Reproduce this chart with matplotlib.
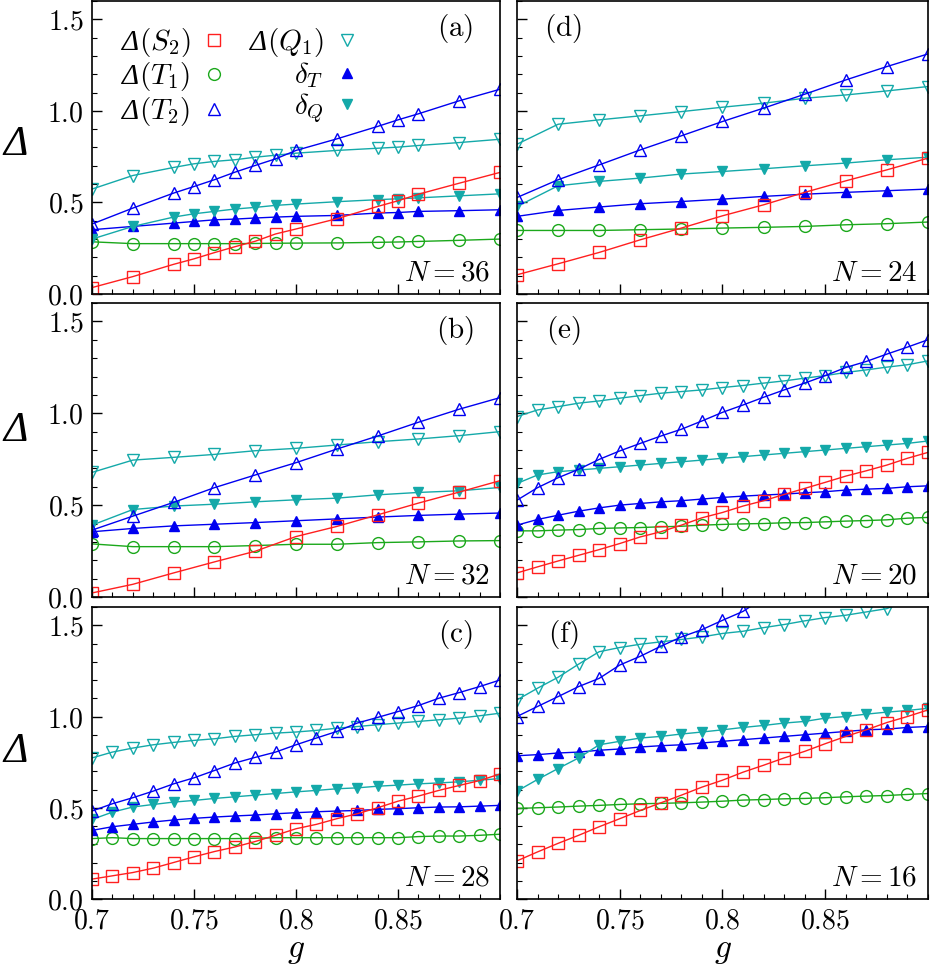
import matplotlib
matplotlib.use('Agg')
import matplotlib.pyplot as plt
from matplotlib.lines import Line2D
from matplotlib.ticker import MultipleLocator

plt.rcParams['mathtext.fontset'] = 'cm'
plt.rcParams['mathtext.rm'] = 'cmr10'
plt.rcParams['mathtext.it'] = 'cmmi10'
plt.rcParams['mathtext.bf'] = 'cmb10'
plt.rcParams['mathtext.sf'] = 'Liberation Serif:italic'
plt.rcParams['font.family'] = ['DejaVu Serif']

# ---------------- data ----------------
g_a = [0.70, 0.72, 0.74, 0.75, 0.76, 0.77, 0.78, 0.79, 0.80, 0.82, 0.84, 0.85, 0.86, 0.88, 0.90]
g_11 = [0.70, 0.72, 0.74, 0.76, 0.78, 0.80, 0.82, 0.84, 0.86, 0.88, 0.90]
g_21 = [0.70, 0.71, 0.72, 0.73, 0.74, 0.75, 0.76, 0.77, 0.78, 0.79, 0.80,
        0.81, 0.82, 0.83, 0.84, 0.85, 0.86, 0.87, 0.88, 0.89, 0.90]
g_f_T2 = [0.70, 0.71, 0.72, 0.73, 0.74, 0.75, 0.76, 0.77, 0.78, 0.79, 0.80, 0.81, 0.82]
g_f_Q1 = [0.70, 0.71, 0.72, 0.73, 0.74, 0.75, 0.76, 0.77, 0.78, 0.79, 0.80,
          0.81, 0.82, 0.83, 0.84, 0.85, 0.86, 0.87, 0.88, 0.89, 0.90]

# (a) N = 36
S2_a = [0.035, 0.095, 0.162, 0.192, 0.226, 0.258, 0.288, 0.328, 0.355, 0.411, 0.478, 0.509, 0.545, 0.605, 0.664]
T1_a = [0.285, 0.275, 0.275, 0.275, 0.275, 0.275, 0.276, 0.277, 0.278, 0.279, 0.282, 0.284, 0.287, 0.293, 0.300]
T2_a = [0.382, 0.469, 0.551, 0.587, 0.624, 0.665, 0.702, 0.738, 0.784, 0.847, 0.915, 0.951, 0.984, 1.055, 1.118]
Q1_a = [0.573, 0.647, 0.691, 0.711, 0.724, 0.733, 0.747, 0.758, 0.769, 0.784, 0.796, 0.802, 0.811, 0.827, 0.845]
dT_a = [0.351, 0.369, 0.387, 0.396, 0.405, 0.409, 0.415, 0.420, 0.424, 0.429, 0.442, 0.445, 0.451, 0.455, 0.460]
dQ_a = [0.300, 0.369, 0.420, 0.438, 0.451, 0.464, 0.473, 0.484, 0.491, 0.504, 0.515, 0.520, 0.525, 0.536, 0.547]

# (b) N = 32
S2_b = [0.022, 0.069, 0.131, 0.191, 0.249, 0.329, 0.384, 0.447, 0.511, 0.571, 0.633]
T1_b = [0.289, 0.274, 0.274, 0.274, 0.280, 0.287, 0.287, 0.296, 0.300, 0.305, 0.307]
T2_b = [0.364, 0.440, 0.515, 0.595, 0.664, 0.731, 0.805, 0.876, 0.951, 1.022, 1.085]
Q1_b = [0.678, 0.745, 0.760, 0.776, 0.796, 0.809, 0.827, 0.845, 0.860, 0.878, 0.900]
dT_b = [0.355, 0.373, 0.387, 0.396, 0.405, 0.415, 0.425, 0.435, 0.444, 0.451, 0.457]
dQ_b = [0.391, 0.476, 0.495, 0.505, 0.518, 0.529, 0.538, 0.556, 0.569, 0.578, 0.596]

# (c) N = 28
S2_c = [0.109, 0.127, 0.145, 0.169, 0.200, 0.231, 0.260, 0.285, 0.315, 0.349, 0.385,
        0.409, 0.440, 0.467, 0.500, 0.536, 0.564, 0.595, 0.622, 0.649, 0.685]
T1_c = [0.331, 0.336, 0.331, 0.331, 0.331, 0.331, 0.331, 0.331, 0.333, 0.336, 0.336,
        0.336, 0.336, 0.336, 0.336, 0.336, 0.342, 0.345, 0.345, 0.349, 0.355]
T2_c = [0.482, 0.522, 0.555, 0.591, 0.631, 0.664, 0.704, 0.745, 0.776, 0.805, 0.845,
        0.882, 0.918, 0.964, 0.995, 1.027, 1.060, 1.100, 1.131, 1.164, 1.200]
Q1_c = [0.773, 0.805, 0.827, 0.845, 0.858, 0.869, 0.878, 0.891, 0.900, 0.909, 0.915,
        0.924, 0.936, 0.945, 0.955, 0.964, 0.973, 0.982, 0.991, 1.004, 1.018]
dT_c = [0.376, 0.396, 0.409, 0.422, 0.433, 0.442, 0.449, 0.455, 0.460, 0.467, 0.473,
        0.478, 0.482, 0.485, 0.491, 0.495, 0.500, 0.504, 0.505, 0.509, 0.513]
dQ_c = [0.436, 0.476, 0.504, 0.518, 0.531, 0.540, 0.551, 0.560, 0.569, 0.578, 0.587,
        0.595, 0.604, 0.609, 0.618, 0.624, 0.631, 0.636, 0.642, 0.651, 0.660]

# (d) N = 24
S2_d = [0.105, 0.165, 0.227, 0.296, 0.360, 0.427, 0.487, 0.555, 0.618, 0.678, 0.742]
T1_d = [0.347, 0.347, 0.347, 0.351, 0.355, 0.360, 0.364, 0.369, 0.378, 0.384, 0.393]
T2_d = [0.527, 0.624, 0.705, 0.787, 0.864, 0.942, 1.015, 1.091, 1.169, 1.242, 1.311]
Q1_d = [0.818, 0.927, 0.951, 0.973, 0.996, 1.020, 1.042, 1.069, 1.087, 1.109, 1.133]
dT_d = [0.424, 0.456, 0.475, 0.493, 0.505, 0.518, 0.533, 0.545, 0.555, 0.564, 0.573]
dQ_d = [0.478, 0.591, 0.615, 0.633, 0.655, 0.669, 0.684, 0.700, 0.715, 0.733, 0.747]

# (e) N = 20
S2_e = [0.131, 0.164, 0.196, 0.227, 0.258, 0.291, 0.327, 0.355, 0.391, 0.431, 0.460,
        0.495, 0.524, 0.558, 0.591, 0.624, 0.658, 0.687, 0.718, 0.755, 0.787]
T1_e = [0.360, 0.360, 0.364, 0.367, 0.373, 0.376, 0.378, 0.382, 0.385, 0.391, 0.395,
        0.398, 0.400, 0.404, 0.405, 0.409, 0.413, 0.416, 0.420, 0.429, 0.433]
T2_e = [0.527, 0.595, 0.649, 0.695, 0.749, 0.795, 0.836, 0.876, 0.913, 0.958, 1.005,
        1.045, 1.087, 1.127, 1.164, 1.205, 1.249, 1.282, 1.322, 1.360, 1.400]
Q1_e = [0.982, 1.018, 1.036, 1.055, 1.067, 1.082, 1.096, 1.109, 1.118, 1.127, 1.140,
        1.151, 1.164, 1.176, 1.191, 1.205, 1.222, 1.236, 1.251, 1.264, 1.285]
dT_e = [0.391, 0.422, 0.445, 0.467, 0.485, 0.500, 0.509, 0.518, 0.524, 0.533, 0.542,
        0.549, 0.555, 0.560, 0.567, 0.573, 0.582, 0.587, 0.591, 0.600, 0.605]
dQ_e = [0.618, 0.664, 0.682, 0.691, 0.700, 0.709, 0.718, 0.727, 0.736, 0.745, 0.755,
        0.764, 0.773, 0.782, 0.791, 0.800, 0.809, 0.818, 0.827, 0.836, 0.849]

# (f) N = 16
S2_f = [0.209, 0.258, 0.305, 0.349, 0.396, 0.440, 0.485, 0.527, 0.569, 0.613, 0.651,
        0.695, 0.733, 0.773, 0.809, 0.851, 0.891, 0.927, 0.967, 1.000, 1.036]
T1_f = [0.496, 0.500, 0.504, 0.509, 0.513, 0.518, 0.522, 0.524, 0.527, 0.531, 0.536,
        0.542, 0.545, 0.549, 0.551, 0.555, 0.560, 0.564, 0.567, 0.573, 0.578]
T2_f = [1.000, 1.055, 1.109, 1.164, 1.209, 1.282, 1.330, 1.385, 1.436, 1.476, 1.527, 1.576, 1.650]
Q1_f = [1.091, 1.155, 1.215, 1.287, 1.355, 1.378, 1.396, 1.409, 1.422, 1.436, 1.455,
        1.467, 1.487, 1.504, 1.524, 1.542, 1.555, 1.573, 1.591, 1.640, 1.660]
dT_f = [0.785, 0.791, 0.800, 0.805, 0.815, 0.822, 0.833, 0.840, 0.845, 0.855, 0.864,
        0.873, 0.882, 0.891, 0.900, 0.909, 0.918, 0.927, 0.931, 0.940, 0.945]
dQ_f = [0.591, 0.655, 0.715, 0.773, 0.845, 0.864, 0.882, 0.891, 0.904, 0.915, 0.927,
        0.940, 0.951, 0.964, 0.973, 0.991, 1.000, 1.013, 1.024, 1.033, 1.045]

panel_tags = ['(a)', '(b)', '(c)', '(d)', '(e)', '(f)']
system_sizes = ['36', '32', '28', '24', '20', '16']
series_labels = [r'$\mathsf{\Delta}(S_2)$', r'$\mathsf{\Delta}(T_1)$', r'$\mathsf{\Delta}(T_2)$',
                 r'$\mathsf{\Delta}(Q_1)$', r'$\delta_T$', r'$\delta_Q$']
xtick_vals = [0.7, 0.75, 0.8, 0.85]
xtick_labels = ['0.7', '0.75', '0.8', '0.85']
ytick_vals = [0.0, 0.5, 1.0, 1.5]
ytick_labels = ['0.0', '0.5', '1.0', '1.5']

panels = [
    dict(gS2=g_a, gT1=g_a, gT2=g_a, gQ1=g_a, gdT=g_a, gdQ=g_a,
         S2=S2_a, T1=T1_a, T2=T2_a, Q1=Q1_a, dT=dT_a, dQ=dQ_a),
    dict(gS2=g_11, gT1=g_11, gT2=g_11, gQ1=g_11, gdT=g_11, gdQ=g_11,
         S2=S2_b, T1=T1_b, T2=T2_b, Q1=Q1_b, dT=dT_b, dQ=dQ_b),
    dict(gS2=g_21, gT1=g_21, gT2=g_21, gQ1=g_21, gdT=g_21, gdQ=g_21,
         S2=S2_c, T1=T1_c, T2=T2_c, Q1=Q1_c, dT=dT_c, dQ=dQ_c),
    dict(gS2=g_11, gT1=g_11, gT2=g_11, gQ1=g_11, gdT=g_11, gdQ=g_11,
         S2=S2_d, T1=T1_d, T2=T2_d, Q1=Q1_d, dT=dT_d, dQ=dQ_d),
    dict(gS2=g_21, gT1=g_21, gT2=g_21, gQ1=g_21, gdT=g_21, gdQ=g_21,
         S2=S2_e, T1=T1_e, T2=T2_e, Q1=Q1_e, dT=dT_e, dQ=dQ_e),
    dict(gS2=g_21, gT1=g_21, gT2=g_f_T2, gQ1=g_f_Q1, gdT=g_21, gdQ=g_21,
         S2=S2_f, T1=T1_f, T2=T2_f, Q1=Q1_f, dT=dT_f, dQ=dQ_f),
]

# ---------------- style ----------------
RED = '#ff1f1f'
GREEN = '#1ba81b'
BLUE = '#0000f0'
TEAL = '#14a9a9'

styles = {
    'S2': dict(color=RED, marker='s', mfc='none', ms=8, mew=1.0),
    'T1': dict(color=GREEN, marker='o', mfc='none', ms=8.5, mew=1.0),
    'T2': dict(color=BLUE, marker='^', mfc='none', ms=9, mew=1.0),
    'Q1': dict(color=TEAL, marker='v', mfc='none', ms=9, mew=1.0),
    'dT': dict(color=BLUE, marker='^', mfc=BLUE, ms=6.5, mew=1.0),
    'dQ': dict(color=TEAL, marker='v', mfc=TEAL, ms=6.5, mew=1.0),
}
order = ['S2', 'T1', 'T2', 'Q1', 'dT', 'dQ']
draw_order = ['T1', 'dT', 'dQ', 'Q1', 'T2', 'S2']

W, H = 934, 971
fig = plt.figure(figsize=(W / 100, H / 100), dpi=100)

col_x = [(92, 500), (517, 928)]
row_y = [(1, 294), (303, 597), (607, 899)]
ylabel_y = [0.515, 0.57, 0.51]

FS = 21      # panel texts / legend
TFS = 20     # tick labels

axes = []
for idx, p in enumerate(panels):
    col = idx // 3
    row = idx % 3
    x0, x1 = col_x[col]
    y0, y1 = row_y[row]
    ax = fig.add_axes([x0 / W, 1 - y1 / H, (x1 - x0) / W, (y1 - y0) / H])
    axes.append(ax)
    for key in draw_order:
        ax.plot(p['g' + key], p[key], lw=1.0, **styles[key])
    ax.set_xlim(0.7, 0.9)
    ax.set_ylim(0.0, 1.6)
    ax.set_xticks(xtick_vals)
    ax.set_yticks(ytick_vals)
    ax.xaxis.set_minor_locator(MultipleLocator(0.01))
    ax.yaxis.set_minor_locator(MultipleLocator(0.1))
    ax.tick_params(which='both', direction='in', top=False, right=False)
    ax.tick_params(which='major', length=7, width=1.0, pad=6)
    ax.tick_params(which='minor', length=3.5, width=0.8)
    for s in ax.spines.values():
        s.set_linewidth(1.2)
    if row == 2:
        ax.set_xticklabels(['$' + t + '$' for t in xtick_labels], fontsize=TFS)
        ax.set_xlabel('$g$', fontsize=24, labelpad=0)
    else:
        ax.set_xticklabels([])
    if col == 0:
        ax.set_yticklabels(['$' + t + '$' for t in ytick_labels], fontsize=TFS)
        ax.set_ylabel(r'$\mathsf{\Delta}$', fontsize=30, rotation=0, va='center', ha='center',
                      math_fontfamily='custom')
        ax.yaxis.set_label_coords(-0.19, ylabel_y[row])
        ax.text(0.89, 0.905, '$\\mathrm{' + panel_tags[idx] + '}$', transform=ax.transAxes,
                fontsize=FS, ha='center', va='center')
    else:
        ax.set_yticklabels([])
        ax.text(0.112, 0.905, '$\\mathrm{' + panel_tags[idx] + '}$', transform=ax.transAxes,
                fontsize=FS, ha='center', va='center')
    ax.text(0.975, 0.025, '$N=' + system_sizes[idx] + '$', transform=ax.transAxes,
            fontsize=FS, ha='right', va='bottom')

handles = [Line2D([], [], ls='none', **styles[k]) for k in order]
leg = axes[0].legend(handles, series_labels, loc='upper left', bbox_to_anchor=(0.02, 0.985),
                     ncol=2, markerfirst=False, frameon=False, fontsize=FS,
                     handlelength=0.8, handletextpad=0.4, columnspacing=0.8,
                     labelspacing=0.05, borderpad=0.2)
for t in leg.get_texts():
    t.set_math_fontfamily('custom')

fig.savefig('out.png', dpi=100)
